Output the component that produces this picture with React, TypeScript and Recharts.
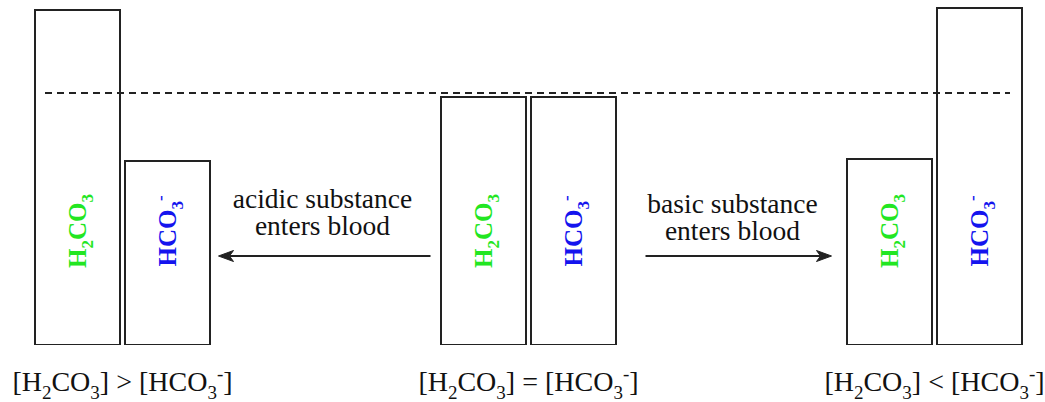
import React from 'react';
import {
  ComposedChart,
  Bar,
  Scatter,
  XAxis,
  YAxis,
  ReferenceLine,
  LabelList,
} from 'recharts';

// ---- data ----
const categories = ['acidosis', 'acidic', 'normal', 'basic', 'alkalosis'];
const h2co3Values: (number | null)[] = [335, null, 248, null, 186];
const hco3Values: (number | null)[] = [184, null, 248, null, 337];
const normalLevel = 252;
const arrowLevels: (number | null)[] = [null, 89, null, 89, null];
const arrowDirections = ['', 'left', '', 'right', ''];
const arrowTexts: string[][] = [
  [],
  ['acidic substance', 'enters blood'],
  [],
  ['basic substance', 'enters blood'],
  [],
];
const tickLabels = [
  '[H2CO3] > [HCO3-]',
  '',
  '[H2CO3] = [HCO3-]',
  '',
  '[H2CO3] < [HCO3-]',
];
const h2co3Label = 'H2CO3';
const hco3Label = 'HCO3-';

const data = categories.map((cat, i) => ({
  cat,
  h2co3: h2co3Values[i],
  hco3: hco3Values[i],
  arrow: arrowLevels[i],
  dir: arrowDirections[i],
  texts: arrowTexts[i],
  tick: tickLabels[i],
}));

// ---- styles ----
const FONT = 'Liberation Serif';
const INK = '#222';
const GREEN = '#22e622';
const BLUE = '#1414ee';

type Seg = { text: string; kind: 'n' | 'sub' | 'sup' };

function parseChem(s: string): Seg[] {
  const segs: Seg[] = [];
  for (let i = 0; i < s.length; i++) {
    const ch = s[i];
    let kind: Seg['kind'] = 'n';
    if (/[0-9]/.test(ch)) kind = 'sub';
    else if (ch === '-' && i > 0 && /[0-9]/.test(s[i - 1])) kind = 'sup';
    const last = segs[segs.length - 1];
    if (last && last.kind === kind) last.text += ch;
    else segs.push({ text: ch, kind });
  }
  return segs;
}

function chemSpans(s: string, fs: number) {
  const segs = parseChem(s);
  let cur = 0;
  return segs.map((seg, i) => {
    let target = 0;
    let size = fs;
    if (seg.kind === 'sub') {
      target = fs * 0.28;
      size = fs * 0.68;
    } else if (seg.kind === 'sup') {
      target = -fs * 0.38;
      size = fs * 0.68;
    }
    const dy = target - cur;
    cur = target;
    return (
      <tspan key={i} dy={dy} fontSize={size} fontFamily={FONT}>
        {seg.text}
      </tspan>
    );
  });
}

const ChemTick = (props: any) => {
  const { x, y, payload } = props;
  const idx = categories.indexOf(payload?.value);
  const label = idx >= 0 ? tickLabels[idx] : '';
  if (!label) return <g />;
  return (
    <text
      x={x}
      y={y + 38}
      textAnchor="middle"
      fontFamily={FONT}
      fontSize={28}
      fill="#111"
    >
      {chemSpans(label, 28)}
    </text>
  );
};

const makeBarLabel = (text: string, color: string) => (props: any) => {
  const { x, y, width, height, value } = props;
  if (value == null) return null;
  const cx = Number(x) + Number(width) / 2;
  const bottom = Number(y) + Number(height);
  const cy = bottom - 114;
  const fs = 25;
  return (
    <g transform={`translate(${cx},${cy}) rotate(-90)`}>
      <text
        x={0}
        y={fs * 0.33}
        textAnchor="middle"
        fontFamily={FONT}
        fontWeight="bold"
        fontSize={fs}
        fill={color}
      >
        {chemSpans(text, fs)}
      </text>
    </g>
  );
};

const ArrowShape = (props: any) => {
  const { cx, cy, payload } = props;
  if (!payload || payload.arrow == null || !isFinite(cx) || !isFinite(cy)) return <g />;
  const left = payload.dir === 'left';
  const x1 = left ? cx - 107 : cx - 86;
  const x2 = left ? cx + 105 : cx + 100;
  const head = 15;
  const hw = 5.5;
  const tipX = left ? x1 : x2;
  const s = left ? 1 : -1;
  const headPath = `M${tipX},${cy} L${tipX + s * head},${cy - hw} L${tipX + s * (head - 4)},${cy} L${tipX + s * head},${cy + hw} Z`;
  const lineStart = left ? x1 + head - 4 : x1;
  const lineEnd = left ? x2 : x2 - head + 4;
  const texts: string[] = payload.texts || [];
  const textCx = left ? cx - 3 : cx + 1;
  const base1 = left ? cy - 48 : cy - 43;
  return (
    <g>
      <line x1={lineStart} y1={cy} x2={lineEnd} y2={cy} stroke={INK} strokeWidth={2} />
      <path d={headPath} fill={INK} stroke={INK} strokeWidth={1} />
      {texts.map((t, i) => (
        <text
          key={i}
          x={textCx}
          y={base1 + i * 27}
          textAnchor="middle"
          fontFamily={FONT}
          fontSize={27.5}
          fill="#111"
        >
          {t}
        </text>
      ))}
    </g>
  );
};

const DashedShape = (props: any) => {
  const { x1, y1, x2, y2 } = props;
  if (![x1, y1, x2, y2].every((v) => isFinite(v))) return <g />;
  return (
    <line
      x1={x1 + 24}
      y1={y1}
      x2={x2 - 26}
      y2={y2}
      stroke={INK}
      strokeWidth={2}
      strokeDasharray="7 5"
    />
  );
};

export default function App() {
  return (
    <div style={{ position: 'absolute', left: 0, top: 0, background: '#fff' }}>
      <ComposedChart
        width={1045}
        height={402}
        data={data}
        margin={{ top: 5, right: 9, bottom: 0, left: 21 }}
        barGap={5}
        barSize={85}
      >
        <XAxis
          dataKey="cat"
          axisLine={false}
          tickLine={false}
          height={57}
          interval={0}
          tick={<ChemTick />}
        />
        <YAxis hide domain={[0, 340]} type="number" allowDataOverflow />
        <Bar dataKey="h2co3" fill="#fff" stroke={INK} strokeWidth={2} isAnimationActive={false}>
          <LabelList dataKey="h2co3" content={makeBarLabel(h2co3Label, GREEN)} />
        </Bar>
        <Bar dataKey="hco3" fill="#fff" stroke={INK} strokeWidth={2} isAnimationActive={false}>
          <LabelList dataKey="hco3" content={makeBarLabel(hco3Label, BLUE)} />
        </Bar>
        <ReferenceLine y={normalLevel} stroke={INK} strokeWidth={2} strokeDasharray="7 5" shape={DashedShape} />
        <Scatter dataKey="arrow" shape={ArrowShape} isAnimationActive={false} />
      </ComposedChart>
    </div>
  );
}
